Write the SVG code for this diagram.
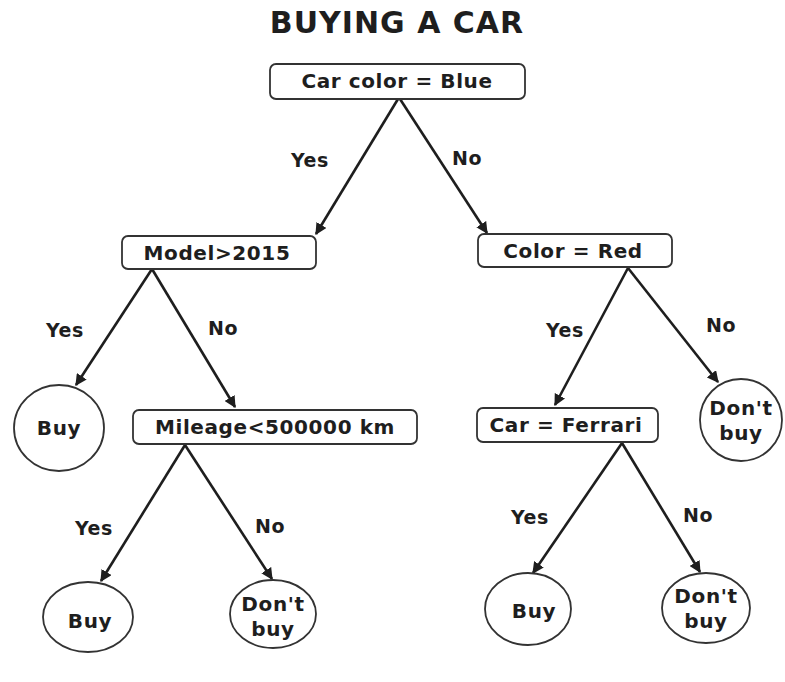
<svg xmlns="http://www.w3.org/2000/svg" width="785" height="682" viewBox="0 0 785 682">
<style>
text{font-family:"DejaVu Sans","Open Sans",sans-serif;font-weight:700;fill:#1e1e1e;text-anchor:middle;dominant-baseline:central}
.title{font-size:30px;letter-spacing:1px}
.box{fill:#fff;stroke:#333;stroke-width:1.8}
.lbl{font-size:19px;letter-spacing:0.6px}
.edge{stroke:#1e1e1e;stroke-width:2.6;fill:none;marker-end:url(#arr)}
.n{font-size:20px;letter-spacing:0.6px}
</style>
<defs>
<marker id="arr" viewBox="0 0 10 10" refX="9" refY="5" markerWidth="4.5" markerHeight="4.5" orient="auto" markerUnits="strokeWidth">
<path d="M0,0 L10,5 L0,10 z" fill="#1e1e1e"/>
</marker>
</defs>
<rect width="785" height="682" fill="#fff"/>
<text class="title" x="397" y="22">BUYING A CAR</text>
<g id="edges">
<line class="edge" x1="398" y1="99" x2="316" y2="234"/>
<line class="edge" x1="400" y1="99" x2="487" y2="233"/>
<line class="edge" x1="152" y1="269" x2="76" y2="385"/>
<line class="edge" x1="152" y1="269" x2="235" y2="407"/>
<line class="edge" x1="628" y1="268" x2="555" y2="405"/>
<line class="edge" x1="628" y1="268" x2="718" y2="382"/>
<line class="edge" x1="185" y1="445" x2="101" y2="581"/>
<line class="edge" x1="185" y1="445" x2="272" y2="579"/>
<line class="edge" x1="622" y1="443" x2="533" y2="573"/>
<line class="edge" x1="622" y1="443" x2="700" y2="572"/>
<text class="lbl" x="310" y="160">Yes</text>
<text class="lbl" x="467" y="158">No</text>
<text class="lbl" x="65" y="330">Yes</text>
<text class="lbl" x="223" y="328">No</text>
<text class="lbl" x="565" y="330">Yes</text>
<text class="lbl" x="721" y="325">No</text>
<text class="lbl" x="94" y="528">Yes</text>
<text class="lbl" x="270" y="526">No</text>
<text class="lbl" x="530" y="517">Yes</text>
<text class="lbl" x="698" y="515">No</text>
</g>
<g id="root"><rect class="box" x="270" y="64" width="255" height="35" rx="6"/><text class="n" x="397" y="81">Car color = Blue</text></g>
<g id="model"><rect class="box" x="122" y="236" width="194" height="33" rx="6"/><text class="n" x="217" y="253">Model&gt;2015</text></g>
<g id="red"><rect class="box" x="478" y="234" width="194" height="33" rx="6"/><text class="n" x="573" y="251">Color = Red</text></g>
<g id="mileage"><rect class="box" x="133" y="410" width="284" height="34" rx="6"/><text class="n" x="275" y="427">Mileage&lt;500000 km</text></g>
<g id="ferrari"><rect class="box" x="477" y="408" width="181" height="34" rx="6"/><text class="n" x="566" y="425">Car = Ferrari</text></g>
<g id="buy1"><ellipse class="box" cx="59" cy="428" rx="45" ry="43"/><text class="n" x="59" y="428">Buy</text></g>
<g id="dont1"><ellipse class="box" cx="741" cy="420" rx="41" ry="41"/><text class="n" x="741" y="408">Don't</text><text class="n" x="741" y="433">buy</text></g>
<g id="buy2"><ellipse class="box" cx="88" cy="617" rx="45" ry="35"/><text class="n" x="90" y="621">Buy</text></g>
<g id="dont2"><ellipse class="box" cx="273" cy="614" rx="43" ry="34"/><text class="n" x="273" y="604">Don't</text><text class="n" x="273" y="629">buy</text></g>
<g id="buy3"><ellipse class="box" cx="528" cy="609" rx="43" ry="36"/><text class="n" x="534" y="611">Buy</text></g>
<g id="dont3"><ellipse class="box" cx="706" cy="608" rx="44" ry="35"/><text class="n" x="706" y="596">Don't</text><text class="n" x="706" y="621">buy</text></g>
</svg>
